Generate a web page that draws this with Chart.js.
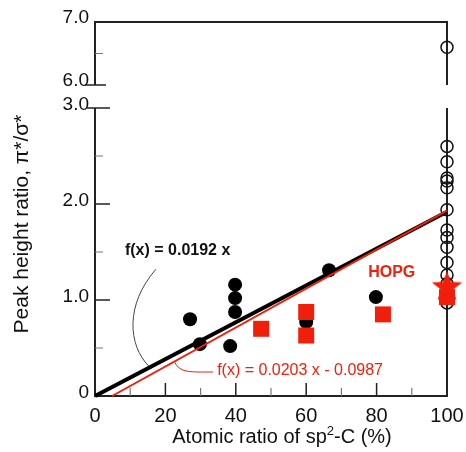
<!DOCTYPE html>
<html>
<head>
<meta charset="utf-8">
<script src="https://cdn.jsdelivr.net/npm/chart.js@4"></script>
<style>
  html, body { margin: 0; padding: 0; background: #fff; }
</style>
</head>
<body>
<canvas id="chart" width="466" height="452"></canvas>
<script>
// Data
const blackX = [27.0, 29.8, 38.4, 39.8, 39.8, 39.8, 60.0, 66.5, 79.8];
const blackY = [0.80, 0.54, 0.52, 0.875, 1.02, 1.16, 0.77, 1.31, 1.03];
const redX = [47.2, 60.0, 60.0, 81.8, 100];
const redY = [0.70, 0.875, 0.63, 0.85, 1.03];
const hopgX = [100];
const hopgY = [1.15];
const openX = [100, 100, 100, 100, 100, 100, 100, 100, 100, 100, 100, 100, 100, 100];
const openY = [2.60, 2.44, 2.27, 2.24, 2.17, 1.94, 1.73, 1.65, 1.55, 1.39, 1.26, 1.17, 1.07, 0.97];
const openTopX = [100];
const openTopY = [6.60];
const fitBlackX = [0, 100];
const fitBlackY = [0, 1.92];
const fitRedX = [4.86, 100];
const fitRedY = [0, 1.931];
const xTicks = [0, 20, 40, 60, 80, 100];
const yLowTicks = [0, 1, 2, 3];
const yTopTicks = [6, 7];

const RED = '#f01e0a';
const INK = '#222';
const FONT = '"Liberation Sans", Arial, sans-serif';

const pts = (xs, ys) => xs.map((x, i) => ({ x: x, y: ys[i] }));

function makeStar(size, color) {
  const c = document.createElement('canvas');
  c.width = c.height = size;
  const g = c.getContext('2d');
  const R = size / 2, r = R * 0.42, cx = size / 2, cy = size / 2 + size * 0.05;
  g.fillStyle = color;
  g.beginPath();
  for (let i = 0; i < 10; i++) {
    const a = -Math.PI / 2 + i * Math.PI / 5;
    const rad = i % 2 ? r : R;
    g.lineTo(cx + rad * Math.cos(a), cy + rad * Math.sin(a));
  }
  g.closePath();
  g.fill();
  return c;
}

// Axis frame, inner ticks, annotations and titles
const framePlugin = {
  id: 'frame',
  beforeDatasetsDraw(chart) {
    const { ctx, scales } = chart;
    const x = scales.x, lo = scales.yLow, hi = scales.yTop;
    const x0 = x.getPixelForValue(0), x1 = x.getPixelForValue(100);
    ctx.save();
    ctx.strokeStyle = INK;
    ctx.lineWidth = 2;
    ctx.lineCap = 'butt';
    ctx.beginPath();
    // upper panel
    ctx.moveTo(x0, hi.getPixelForValue(6));
    ctx.lineTo(x0, hi.getPixelForValue(7));
    ctx.lineTo(x1, hi.getPixelForValue(7));
    ctx.lineTo(x1, hi.getPixelForValue(6));
    // lower panel
    ctx.moveTo(x0, lo.getPixelForValue(3));
    ctx.lineTo(x0, lo.getPixelForValue(0));
    ctx.lineTo(x1, lo.getPixelForValue(0));
    ctx.lineTo(x1, lo.getPixelForValue(3));
    ctx.stroke();

    // break ticks
    ctx.lineWidth = 1.5;
    ctx.beginPath();
    ctx.moveTo(x0 - 10, hi.getPixelForValue(6));
    ctx.lineTo(x0 + 11, hi.getPixelForValue(6));
    ctx.moveTo(x0 - 8, lo.getPixelForValue(3));
    ctx.lineTo(x0 + 15, lo.getPixelForValue(3));
    // major y ticks
    [1, 2].forEach(v => {
      ctx.moveTo(x0, lo.getPixelForValue(v));
      ctx.lineTo(x0 + 15, lo.getPixelForValue(v));
    });
    // major x ticks
    [20, 40, 60, 80].forEach(v => {
      ctx.moveTo(x.getPixelForValue(v), lo.getPixelForValue(0));
      ctx.lineTo(x.getPixelForValue(v), lo.getPixelForValue(0) - 13);
    });
    ctx.stroke();

    // minor ticks
    ctx.strokeStyle = '#777';
    ctx.lineWidth = 1.2;
    ctx.beginPath();
    [0.5, 1.5, 2.5].forEach(v => {
      ctx.moveTo(x0, lo.getPixelForValue(v));
      ctx.lineTo(x0 + 8, lo.getPixelForValue(v));
    });
    ctx.moveTo(x0, hi.getPixelForValue(6.5));
    ctx.lineTo(x0 + 8, hi.getPixelForValue(6.5));
    [10, 30, 50, 70, 90].forEach(v => {
      ctx.moveTo(x.getPixelForValue(v), lo.getPixelForValue(0));
      ctx.lineTo(x.getPixelForValue(v), lo.getPixelForValue(0) - 8);
    });
    ctx.stroke();
    ctx.restore();
  },
  afterDatasetsDraw(chart) {
    const { ctx, scales, chartArea } = chart;
    const x = scales.x, lo = scales.yLow;
    const px = v => x.getPixelForValue(v);
    const py = v => lo.getPixelForValue(v);
    ctx.save();

    // leader curves
    ctx.lineWidth = 1;
    ctx.strokeStyle = '#444';
    ctx.beginPath();
    ctx.moveTo(px(17.3), py(1.32));
    ctx.bezierCurveTo(px(8.5), py(0.95), px(9.4), py(0.53), px(15.3), py(0.31));
    ctx.stroke();
    ctx.strokeStyle = RED;
    ctx.beginPath();
    ctx.moveTo(px(22.7), py(0.35));
    ctx.bezierCurveTo(px(24.1), py(0.24), px(27), py(0.25), px(33.5), py(0.25));
    ctx.stroke();

    // labels
    ctx.textBaseline = 'middle';
    ctx.textAlign = 'left';
    ctx.fillStyle = '#111';
    ctx.font = 'bold 16px ' + FONT;
    ctx.fillText('f(x) = 0.0192 x', px(8.5), py(1.51));
    ctx.fillStyle = RED;
    ctx.font = '16px ' + FONT;
    ctx.fillText('f(x) = 0.0203 x - 0.0987', px(34.7), py(0.26));
    ctx.font = 'bold 16px ' + FONT;
    ctx.fillText('HOPG', px(77.6), py(1.29));

    // axis titles
    ctx.fillStyle = '#111';
    ctx.font = '21px ' + FONT;
    ctx.save();
    ctx.translate(chartArea.left - 73, chartArea.top + 202);
    ctx.rotate(-Math.PI / 2);
    ctx.textAlign = 'center';
    ctx.fillText('Peak height ratio, \u03c0*/\u03c3*', 0, 0);
    ctx.restore();

    const partA = 'Atomic ratio of sp', partB = '2', partC = '-C (%)';
    ctx.font = '20px ' + FONT;
    const wA = ctx.measureText(partA).width, wC = ctx.measureText(partC).width;
    ctx.font = '13px ' + FONT;
    const wB = ctx.measureText(partB).width;
    let tx = chartArea.left + 187 - (wA + wB + wC) / 2;
    const ty = chartArea.bottom + 41;
    ctx.font = '20px ' + FONT;
    ctx.fillText(partA, tx, ty);
    tx += wA;
    ctx.font = '13px ' + FONT;
    ctx.fillText(partB, tx, ty - 6);
    tx += wB;
    ctx.font = '20px ' + FONT;
    ctx.fillText(partC, tx, ty);
    ctx.restore();
  }
};

const fmt = v => (v === 0 ? '0' : Number(v).toFixed(1));

new Chart(document.getElementById('chart'), {
  type: 'scatter',
  data: {
    datasets: [
      {
        data: pts(openX, openY), yAxisID: 'yLow', order: 6, clip: false,
        pointStyle: 'circle', pointRadius: 6, borderWidth: 1.5,
        borderColor: '#111', backgroundColor: 'rgba(0,0,0,0)'
      },
      {
        data: pts(openTopX, openTopY), yAxisID: 'yTop', order: 6, clip: false,
        pointStyle: 'circle', pointRadius: 6, borderWidth: 1.5,
        borderColor: '#111', backgroundColor: 'rgba(0,0,0,0)'
      },
      {
        data: pts(blackX, blackY), yAxisID: 'yLow', order: 5, clip: false,
        pointRadius: 7, borderWidth: 0, backgroundColor: '#000'
      },
      {
        data: pts(fitBlackX, fitBlackY), yAxisID: 'yLow', order: 3, clip: false,
        showLine: true, pointRadius: 0, borderColor: '#000', borderWidth: 4
      },
      {
        data: pts(fitRedX, fitRedY), yAxisID: 'yLow', order: 2, clip: false,
        showLine: true, pointRadius: 0, borderColor: RED, borderWidth: 2
      },
      {
        data: pts(redX, redY), yAxisID: 'yLow', order: 1, clip: false,
        pointStyle: 'rect', pointRadius: 11.3, borderWidth: 0, backgroundColor: RED
      },
      {
        data: pts(hopgX, hopgY), yAxisID: 'yLow', order: 0, clip: false,
        pointStyle: makeStar(32, RED), pointRadius: 16
      }
    ]
  },
  options: {
    responsive: false,
    animation: false,
    events: [],
    layout: { padding: { top: 22, right: 19, bottom: 0, left: 0 } },
    plugins: { legend: { display: false }, tooltip: { enabled: false } },
    scales: {
      x: {
        type: 'linear', min: 0, max: 100,
        grid: { display: false, drawTicks: false },
        border: { display: false },
        afterBuildTicks: s => { s.ticks = xTicks.map(v => ({ value: v })); },
        afterFit: s => { s.height = 56; s.paddingLeft = 0; s.paddingRight = 0; },
        ticks: { padding: 8, color: '#111', font: { family: FONT, size: 20 }, maxRotation: 0 }
      },
      yLow: {
        axis: 'y', type: 'linear', position: 'left', stack: 'v', stackWeight: 288,
        min: 0, max: 3,
        grid: { display: false, drawTicks: false },
        border: { display: false },
        afterBuildTicks: s => { s.ticks = yLowTicks.map(v => ({ value: v })); },
        afterFit: s => { s.width = 95; s.paddingTop = 0; s.paddingBottom = 0; },
        ticks: { padding: 6, labelOffset: -3, color: '#111', font: { family: FONT, size: 19 }, callback: fmt }
      },
      yTop: {
        axis: 'y', type: 'linear', position: 'left', stack: 'v', stackWeight: 86,
        min: 5.635, max: 7,
        grid: { display: false, drawTicks: false },
        border: { display: false },
        afterBuildTicks: s => { s.ticks = yTopTicks.map(v => ({ value: v })); },
        afterFit: s => { s.width = 95; s.paddingTop = 0; s.paddingBottom = 0; },
        ticks: { padding: 6, labelOffset: -4, color: '#111', font: { family: FONT, size: 19 }, callback: fmt }
      }
    }
  },
  plugins: [framePlugin]
});
</script>
</body>
</html>
